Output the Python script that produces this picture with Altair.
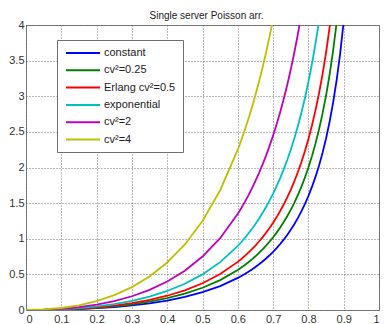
import altair as alt
import pandas as pd

# utilisation values (x axis)
X = [0, 0.05, 0.1, 0.15, 0.2, 0.25, 0.3, 0.35, 0.4, 0.45, 0.5, 0.55, 0.6,
     0.61, 0.62, 0.63, 0.64, 0.65, 0.66, 0.67, 0.68, 0.69, 0.70,
     0.71, 0.72, 0.73, 0.74, 0.75, 0.76, 0.77, 0.78, 0.79, 0.80,
     0.81, 0.82, 0.83, 0.84, 0.85, 0.86, 0.87, 0.88, 0.89, 0.90]

SERIES = ["constant", "cv²=0.25", "Erlang cv²=0.5", "exponential", "cv²=2", "cv²=4"]
COLORS = ["#0000FF", "#008000", "#FF0000", "#00BFBF", "#BF00BF", "#BFBF00"]

constant = [0, 0.001, 0.006, 0.013, 0.025, 0.042, 0.064, 0.094, 0.133, 0.184, 0.25, 0.336, 0.45,
            0.477, 0.506, 0.536, 0.569, 0.604, 0.641, 0.680, 0.723, 0.768, 0.817,
            0.869, 0.926, 0.987, 1.053, 1.125, 1.203, 1.289, 1.383, 1.486, 1.6,
            1.727, 1.868, 2.026, 2.205, 2.408, 2.641, 2.911, 3.227, 3.600, 4.05]
cv025 = [0, 0.002, 0.007, 0.017, 0.031, 0.052, 0.080, 0.118, 0.167, 0.230, 0.3125, 0.420, 0.5625,
         0.596, 0.632, 0.670, 0.711, 0.754, 0.801, 0.850, 0.903, 0.960, 1.021,
         1.086, 1.157, 1.234, 1.316, 1.406, 1.504, 1.611, 1.728, 1.857, 2.0,
         2.158, 2.335, 2.533, 2.756, 3.010, 3.302, 3.639, 4.033]
erlang = [0, 0.002, 0.008, 0.020, 0.0375, 0.0625, 0.096, 0.141, 0.2, 0.276, 0.375, 0.504, 0.675,
          0.716, 0.759, 0.805, 0.853, 0.905, 0.961, 1.020, 1.084, 1.152, 1.225,
          1.304, 1.389, 1.480, 1.580, 1.6875, 1.805, 1.933, 2.074, 2.229, 2.4,
          2.590, 2.802, 3.039, 3.3075, 3.6125, 3.962, 4.367]
exponential = [0, 0.003, 0.011, 0.026, 0.05, 0.083, 0.129, 0.188, 0.267, 0.368, 0.5, 0.672, 0.9,
               0.954, 1.012, 1.073, 1.138, 1.207, 1.281, 1.360, 1.445, 1.536, 1.633,
               1.738, 1.851, 1.974, 2.106, 2.25, 2.407, 2.578, 2.765, 2.972, 3.2,
               3.453, 3.736, 4.052]
cv2 = [0, 0.004, 0.017, 0.040, 0.075, 0.125, 0.193, 0.283, 0.4, 0.552, 0.75, 1.008, 1.35,
       1.431, 1.517, 1.609, 1.707, 1.811, 1.922, 2.040, 2.1675, 2.304, 2.45,
       2.607, 2.777, 2.961, 3.159, 3.375, 3.610, 3.867, 4.148]
cv4 = [0, 0.007, 0.028, 0.066, 0.125, 0.208, 0.321, 0.471, 0.667, 0.920, 1.25, 1.681, 2.25,
       2.385, 2.529, 2.682, 2.844, 3.018, 3.203, 3.401, 3.6125, 3.840, 4.083]

VALUES = [constant, cv025, erlang, exponential, cv2, cv4]

X_TICKS = [0, 0.1, 0.2, 0.3, 0.4, 0.5, 0.6, 0.7, 0.8, 0.9, 1]
Y_TICKS = [0, 0.5, 1, 1.5, 2, 2.5, 3, 3.5, 4]

rows = []
for name, vals in zip(SERIES, VALUES):
    for i, v in enumerate(vals):
        rows.append({"rho": X[i], "L": v, "series": name, "idx": i})
df = pd.DataFrame(rows)

FONT = "Liberation Sans"

axis_common = dict(
    title=None, format="~g", ticks=False, domain=False,
    grid=True, gridColor="#555555", gridDash=[1, 2], gridOpacity=0.8, gridWidth=1,
    labelFont=FONT, labelFontSize=11, labelColor="#333333",
)

chart = alt.Chart(df).mark_line(clip=True, strokeWidth=1.8).encode(
    x=alt.X("rho:Q", scale=alt.Scale(domain=[0, 1], nice=False),
            axis=alt.Axis(values=X_TICKS, labelPadding=3, **axis_common)),
    y=alt.Y("L:Q", scale=alt.Scale(domain=[0, 4], nice=False),
            axis=alt.Axis(values=Y_TICKS, labelPadding=2, **axis_common)),
    color=alt.Color("series:N", scale=alt.Scale(domain=SERIES, range=COLORS),
                    legend=alt.Legend(orient="none", legendX=31, legendY=15, title=None,
                                      symbolType="M-3.4,0H3.4", symbolSize=100,
                                      symbolStrokeWidth=2, symbolOffset=13,
                                      labelFont=FONT, labelFontSize=11, labelColor="#222222",
                                      strokeColor="#6f6f6f", fillColor="white", padding=7,
                                      labelOffset=15, rowPadding=6.3, cornerRadius=0)),
    order="idx:Q",
).properties(
    width=353, height=285,
    title=alt.TitleParams("Single server Poisson arr.", font=FONT, fontSize=10,
                          fontWeight="normal", color="#222222", offset=-1.5,
                          baseline="top", frame="group", dx=4),
    padding={"left": 18, "top": 17, "right": 3, "bottom": 14},
    autosize="none",
).configure_view(stroke="#808080", strokeWidth=1)

chart.save("out.html", embed_options={"renderer": "svg", "actions": False})
